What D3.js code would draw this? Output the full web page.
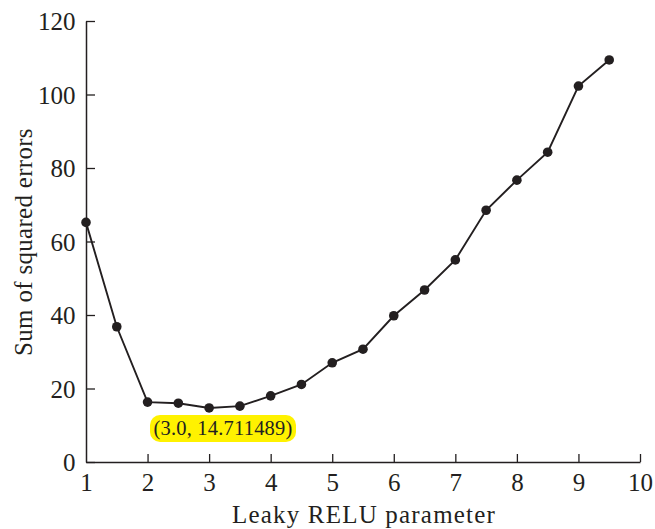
<!DOCTYPE html>
<html>
<head>
<meta charset="utf-8">
<script src="https://cdn.jsdelivr.net/npm/d3@7"></script>
<style>
  html, body { margin: 0; padding: 0; background: #fff; }
  svg text { font-family: "Liberation Serif", "Times New Roman", serif; fill: #231f20; }
</style>
</head>
<body>
<svg id="chart" width="655" height="529"></svg>
<script>
// Leaky ReLU parameter sweep and the resulting sum of squared errors
const params = [1, 1.5, 2, 2.5, 3, 3.5, 4, 4.5, 5, 5.5, 6, 6.5, 7, 7.5, 8, 8.5, 9, 9.5];
const sse = [65.2, 36.8, 16.3, 16.0, 14.711489, 15.2, 18.0, 21.1, 27.0, 30.7, 39.8, 46.8, 55.0, 68.5, 76.7, 84.3, 102.3, 109.4];
const xTicks = [1, 2, 3, 4, 5, 6, 7, 8, 9, 10];
const yTicks = [0, 20, 40, 60, 80, 100, 120];
const minLabel = "(3.0, 14.711489)";
const minIndex = 4;

const ink = "#231f20";
const svg = d3.select("#chart");
const x = d3.scaleLinear().domain([1, 10]).range([86, 640]);
const y = d3.scaleLinear().domain([0, 120]).range([462, 21]);

// axes with inward ticks
const xAxis = svg.append("g").attr("transform", `translate(0,${y(0)})`)
  .call(d3.axisBottom(x).tickValues(xTicks).tickSize(-8).tickPadding(14).tickSizeOuter(0));
const yAxis = svg.append("g").attr("transform", `translate(${x(1)},0)`)
  .call(d3.axisLeft(y).tickValues(yTicks).tickSize(-9).tickPadding(10.5).tickSizeOuter(0));

[xAxis, yAxis].forEach(g => {
  g.select(".domain").attr("stroke", ink).attr("stroke-width", 1.5);
  g.selectAll(".tick line").attr("stroke", ink).attr("stroke-width", 1.3);
  g.selectAll(".tick text").attr("font-size", 25).attr("font-family", "Liberation Serif, serif").attr("fill", ink);
});
xAxis.selectAll(".tick").filter(d => d === 1).select("line").remove();
xAxis.selectAll(".tick text").attr("dy", "0.58em");
yAxis.selectAll(".tick text").attr("dy", "0.34em");

// axis titles
svg.append("text").attr("x", 364).attr("y", 523).attr("text-anchor", "middle")
  .attr("font-size", 25).attr("letter-spacing", 1.2).text("Leaky RELU parameter");
svg.append("text").attr("transform", `translate(32,242) rotate(-90)`)
  .attr("text-anchor", "middle").attr("font-size", 25).attr("letter-spacing", 0.3)
  .text("Sum of squared errors");

// series line and markers
const line = d3.line().x((d, i) => x(params[i])).y(d => y(d));
svg.append("path").datum(sse).attr("d", line).attr("fill", "none")
  .attr("stroke", ink).attr("stroke-width", 1.9);
svg.selectAll("circle.pt").data(sse).join("circle").attr("class", "pt")
  .attr("cx", (d, i) => x(params[i])).attr("cy", d => y(d)).attr("r", 4.8).attr("fill", ink);

// highlighted minimum label
const lx = 223, ly = 428.5;
const lbl = svg.append("g");
lbl.append("rect").attr("x", lx - 73).attr("y", ly - 13.5).attr("width", 146)
  .attr("height", 27).attr("rx", 10).attr("fill", "#fff200");
lbl.append("text").attr("x", lx).attr("y", ly).attr("text-anchor", "middle")
  .attr("dy", "0.33em").attr("font-size", 20.5).attr("letter-spacing", 0.2).text(minLabel);
</script>
</body>
</html>
